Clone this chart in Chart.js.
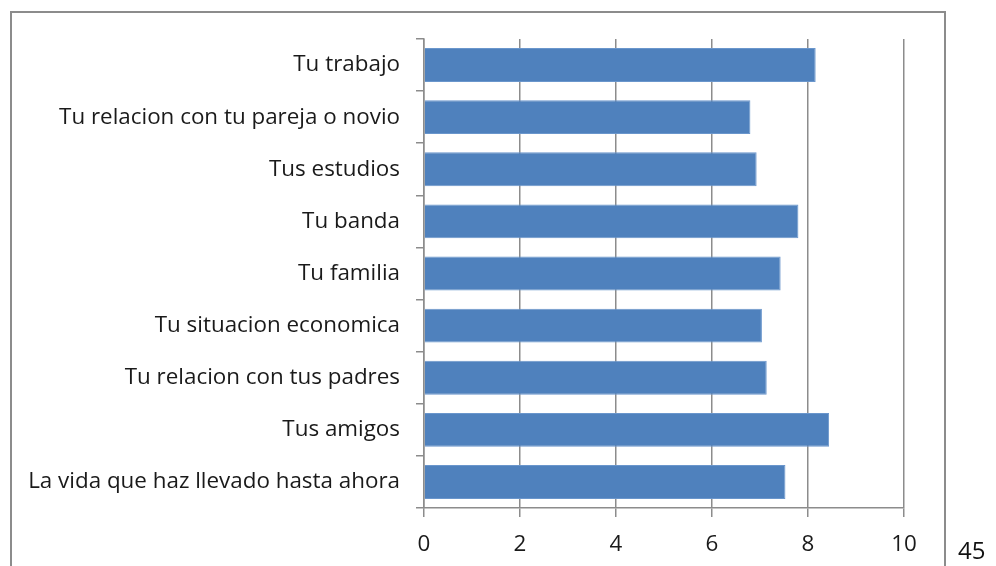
<!DOCTYPE html>
<html>
<head>
<meta charset="utf-8">
<script src="https://cdn.jsdelivr.net/npm/chart.js@4/dist/chart.umd.min.js"></script>
<style>
  html, body { margin: 0; padding: 0; width: 996px; height: 566px; overflow: hidden; background: #ffffff; }
  #frame { position: absolute; left: 10px; top: 11px; width: 936px; height: 620px; border: 2px solid #8c8c8c; box-sizing: border-box; }
  #wrap { position: absolute; left: 0; top: 0; width: 996px; height: 566px; }
  #page { position: absolute; left: 958px; top: 535px; font-family: 'Open Sans', sans-serif; font-size: 24px; line-height: 30px; color: #111; }
</style>
</head>
<body>
<div id="frame"></div>
<div id="wrap"><canvas id="chart" width="996" height="566"></canvas></div>
<div id="page">45</div>
<script>
// Satisfaction ratings (scale 0–10) per life area
const categories = [
  'Tu trabajo',
  'Tu relacion con tu pareja o novio',
  'Tus estudios',
  'Tu banda',
  'Tu familia',
  'Tu situacion economica',
  'Tu relacion con tus padres',
  'Tus amigos',
  'La vida que haz llevado hasta ahora'
];
const scores = [8.16, 6.80, 6.93, 7.80, 7.43, 7.04, 7.14, 8.44, 7.53];
const xTicks = [0, 2, 4, 6, 8, 10];

const axisGrey = '#8c8c8c';
const labelFont = { family: "'Open Sans', sans-serif", size: 22.4 };

new Chart(document.getElementById('chart'), {
  type: 'bar',
  data: {
    labels: categories,
    datasets: [{
      data: scores,
      backgroundColor: '#4f81bd',
      borderColor: '#6a96cc',
      borderWidth: 1,
      barPercentage: 0.65,
      categoryPercentage: 1.0
    }]
  },
  options: {
    indexAxis: 'y',
    responsive: false,
    animation: false,
    layout: { padding: { top: 39, right: 92, bottom: 0, left: 0 } },
    plugins: { legend: { display: false }, tooltip: { enabled: false } },
    scales: {
      x: {
        min: 0,
        max: 10,
        afterBuildTicks: (scale) => { scale.ticks = xTicks.map(v => ({ value: v })); },
        afterFit: (scale) => { scale.height = 58; },
        grid: { color: axisGrey, lineWidth: 1.5, tickLength: 9, drawOnChartArea: true },
        border: { color: axisGrey, width: 1.5 },
        ticks: { font: labelFont, color: '#1a1a1a', padding: 14, maxRotation: 0 }
      },
      y: {
        afterFit: (scale) => { scale.width = 424; },
        grid: { color: axisGrey, lineWidth: 1.5, tickLength: 8, drawOnChartArea: false, offset: true },
        border: { color: axisGrey, width: 1.5 },
        ticks: { font: labelFont, color: '#1a1a1a', padding: 16 }
      }
    }
  }
});
</script>
</body>
</html>
